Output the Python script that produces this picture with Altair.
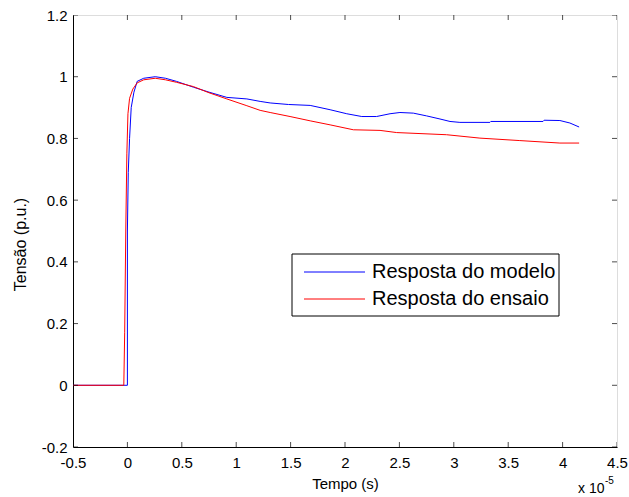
import altair as alt
import pandas as pd

# Time in units of 1e-5 s
model_t = [-0.5, 0.0, 0.0, 0.008, 0.02, 0.035, 0.06, 0.09, 0.15, 0.256, 0.35, 0.45, 0.607,
           0.75, 0.914, 1.098, 1.22, 1.312, 1.48, 1.68, 1.863, 2.016, 2.154, 2.29, 2.414,
           2.505, 2.628, 2.75, 2.873, 2.965, 3.056, 3.332, 3.34, 3.82, 3.83, 3.975, 4.067, 4.152]
model_v = [0.0, 0.0, 0.5, 0.69, 0.8, 0.9, 0.95, 0.985, 0.995, 1.0, 0.995, 0.985, 0.966,
           0.95, 0.933, 0.928, 0.92, 0.915, 0.91, 0.907, 0.893, 0.88, 0.871, 0.871, 0.88,
           0.884, 0.882, 0.873, 0.863, 0.855, 0.852, 0.852, 0.855, 0.855, 0.859, 0.858, 0.85, 0.837]

test_t = [-0.5, -0.033, -0.025, -0.015, -0.005, 0.005, 0.02, 0.05, 0.09, 0.15, 0.256, 0.35,
          0.45, 0.607, 0.75, 0.914, 1.098, 1.22, 1.312, 1.495, 1.68, 1.863, 2.077, 2.322,
          2.475, 2.934, 3.24, 3.607, 3.975, 4.152]
test_v = [0.0, 0.0, 0.17, 0.5, 0.75, 0.88, 0.93, 0.96, 0.98, 0.99, 0.995, 0.99,
          0.982, 0.968, 0.948, 0.928, 0.906, 0.891, 0.884, 0.871, 0.857, 0.844, 0.828, 0.826,
          0.819, 0.812, 0.801, 0.793, 0.785, 0.785]

series_names = ["Resposta do modelo", "Resposta do ensaio"]
series_colors = ["#0000FF", "#FF0000"]
x_ticks = [-0.5, 0, 0.5, 1, 1.5, 2, 2.5, 3, 3.5, 4, 4.5]
y_ticks = [-0.2, 0, 0.2, 0.4, 0.6, 0.8, 1, 1.2]

W, H = 544, 432
FONT = "Liberation Sans"

x_scale = alt.Scale(domain=[-0.5, 4.5], nice=False, zero=False)
y_scale = alt.Scale(domain=[-0.2, 1.2], nice=False, zero=False)

x_enc = alt.X("t:Q", scale=x_scale,
              axis=alt.Axis(values=x_ticks, labelExpr="'' + datum.value", title="Tempo (s)",
                            grid=False, ticks=False, labelPadding=8,
                            labelFont=FONT, labelFontSize=15, labelColor="black",
                            titleFont=FONT, titleFontSize=15, titleFontWeight="normal",
                            titleColor="black", titleBaseline="alphabetic", titleY=41,
                            domainColor="black", labelFlush=False))
y_enc = alt.Y("v:Q", scale=y_scale,
              axis=alt.Axis(values=y_ticks, labelExpr="'' + datum.value", title="Tensão (p.u.)",
                            grid=False, ticks=False, labelPadding=6,
                            labelFont=FONT, labelFontSize=15, labelColor="black",
                            titleFont=FONT, titleFontSize=16, titleFontWeight="normal",
                            titleColor="black", titleBaseline="alphabetic", titleX=-48,
                            titleY=229, domainColor="black", labelFlush=False))

df_model = pd.DataFrame({"t": model_t, "v": model_v, "i": range(len(model_t))})
df_test = pd.DataFrame({"t": test_t, "v": test_v, "i": range(len(test_t))})

line_model = alt.Chart(df_model).mark_line(color=series_colors[0], strokeWidth=1, clip=True).encode(
    x=x_enc, y=y_enc, order="i:Q")
line_test = alt.Chart(df_test).mark_line(color=series_colors[1], strokeWidth=1, clip=True).encode(
    x=alt.X("t:Q"), y=alt.Y("v:Q"), order="i:Q")

# Inward ticks on all four sides (clipped to the plot area)
df_xt = pd.DataFrame({"t": x_ticks})
df_yt = pd.DataFrame({"v": y_ticks})
tick_layers = []
for yy in (0, H):
    tick_layers.append(alt.Chart(df_xt).mark_tick(color="black", size=10, thickness=1, clip=True).encode(
        x=alt.X("t:Q"), y=alt.value(yy)))
for xx in (0, W):
    tick_layers.append(alt.Chart(df_yt).mark_tick(color="black", size=10, thickness=1, clip=True).encode(
        y=alt.Y("v:Q"), x=alt.value(xx)))

# Legend (drawn inside the plot)
one = pd.DataFrame({"k": [0]})
legend_box = alt.Chart(one).mark_rect(fill="white", stroke="black", strokeWidth=1).encode(
    x=alt.value(219), x2=alt.value(486), y=alt.value(239), y2=alt.value(301))
legend_layers = [legend_box]
row_y = [257, 284]
for name, col, ry in zip(series_names, series_colors, row_y):
    d = pd.DataFrame({"label": [name]})
    legend_layers.append(alt.Chart(d).mark_rule(color=col, strokeWidth=1).encode(
        x=alt.value(231), x2=alt.value(292), y=alt.value(ry)))
    legend_layers.append(alt.Chart(d).mark_text(align="left", baseline="middle", font=FONT,
                                                fontSize=20, color="black").encode(
        x=alt.value(299), y=alt.value(ry), text="label:N"))

exp_base = alt.Chart(pd.DataFrame({"s": ["x 10"]})).mark_text(
    align="left", baseline="alphabetic", font=FONT, fontSize=14, color="black").encode(
    x=alt.value(505), y=alt.value(478), text="s:N")
exp_pow = alt.Chart(pd.DataFrame({"s": ["-5"]})).mark_text(
    align="left", baseline="alphabetic", font=FONT, fontSize=10, color="black").encode(
    x=alt.value(532), y=alt.value(469), text="s:N")

chart = alt.layer(line_model, line_test, *tick_layers, *legend_layers, exp_base, exp_pow).properties(
    width=W, height=H,
    autosize=alt.AutoSizeParams(type="none"),
    padding={"left": 73, "top": 15, "right": 12, "bottom": 50},
).configure_view(stroke="black", strokeWidth=1).configure(background="white")

chart.save("out.html", embed_options={"renderer": "svg", "actions": False})
